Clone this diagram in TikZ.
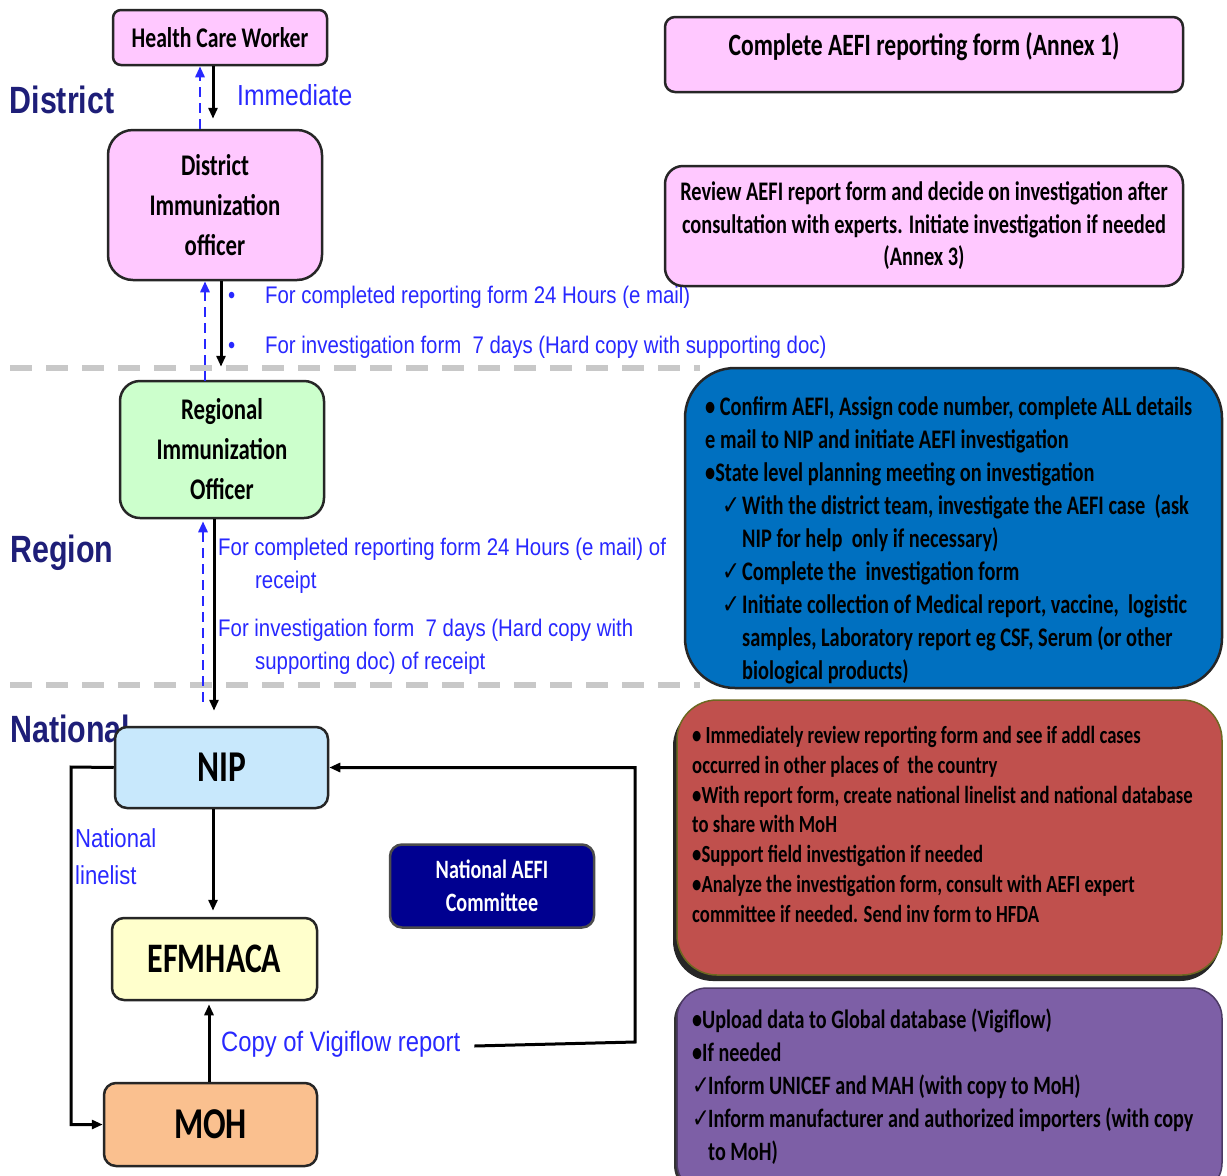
\documentclass[tikz,border=0pt]{standalone}
\usepackage{fontspec}
\usetikzlibrary{arrows.meta}
\newfontfamily\boxfont{Carlito}[FakeStretch=0.76]
\newfontfamily\bluefont{Liberation Sans}[FakeStretch=0.85]
\newfontfamily\levelfont{Liberation Sans}[FakeStretch=0.8]
\newfontfamily\checkfont{DejaVu Sans}[FakeStretch=0.8]

\definecolor{pinkbox}{HTML}{FFC8FF}
\definecolor{greenbox}{HTML}{CCFFCC}
\definecolor{nipbox}{HTML}{C8E8FC}
\definecolor{yellowbox}{HTML}{FFFFCC}
\definecolor{orangebox}{HTML}{FAC08F}
\definecolor{bluepanel}{HTML}{0070C0}
\definecolor{redpanel}{HTML}{C0504D}
\definecolor{purplepanel}{HTML}{7D5FA6}
\definecolor{navybox}{HTML}{000090}
\definecolor{levelcol}{RGB}{30,30,120}
\definecolor{notecol}{RGB}{40,40,255}
\definecolor{sepgray}{HTML}{C8C8C8}

\newcommand{\chk}{{\checkfont\char"2713}}

% multi-line text nodes below are anchored at the baseline of their last line
\tikzset{
  box/.style={draw=black!85, line width=2.5pt, rounded corners=12pt, align=center,
              inner sep=0pt, font=\boxfont\bfseries},
  panel/.style={draw=black!85, line width=2.5pt, inner sep=0pt},
  paneltext/.style={anchor=base west, align=left, inner sep=0pt, text=black},
  level/.style={font=\levelfont\bfseries\fontsize{38}{40}\selectfont, text=levelcol, inner sep=0pt},
  note/.style={font=\bluefont\fontsize{24}{33}\selectfont, text=notecol, inner sep=0pt, align=left},
  flow/.style={draw=black, line width=3pt, -{Triangle[length=11pt,width=9pt]}},
  back/.style={draw=notecol, line width=2.8pt, dash pattern=on 10pt off 6pt,
               -{Triangle[length=11pt,width=9pt]}},
  sep/.style={draw=sepgray, line width=6pt, dash pattern=on 22pt off 14pt},
}

\begin{document}
\begin{tikzpicture}[x=1pt,y=-1pt]
\useasboundingbox (0,0) rectangle (1227,1176);
\begin{scope}
\clip (0,0) rectangle (1227,1176);
\fill[white] (0,0) rectangle (1227,1176);

% level separators
\draw[sep] (10,368) -- (700,368);
\draw[sep] (10,685) -- (700,685);

% level labels
\node[level] (lvdistrict) at (62,100) {District};
\node[level] (lvregion) at (62,553) {Region};
\node[level, anchor=west] (lvnational) at (10,729) {National};

% reporting chain
\node[box, fill=pinkbox, minimum width=214pt, minimum height=55pt, rounded corners=8pt,
      font=\boxfont\bfseries\fontsize{28.5}{30}\selectfont] (hcw) at (220,37.5) {Health Care Worker};
\node[box, fill=pinkbox, minimum width=214pt, minimum height=150pt, rounded corners=25pt,
      font=\boxfont\bfseries\fontsize{30}{40}\selectfont] (dio) at (215,205)
      {District\\Immunization\\officer};
\node[box, fill=greenbox, minimum width=204pt, minimum height=137pt, rounded corners=20pt,
      font=\boxfont\bfseries\fontsize{30}{40}\selectfont] (roi) at (222,449.5)
      {Regional\\Immunization\\Officer};
\node[box, fill=nipbox, minimum width=213pt, minimum height=81pt,
      font=\boxfont\bfseries\fontsize{44}{46}\selectfont] (nip) at (221.5,767.5) {NIP};
\node[box, fill=yellowbox, minimum width=205pt, minimum height=82pt,
      font=\boxfont\bfseries\fontsize{42}{46}\selectfont] (efm) at (214.5,959) {EFMHACA};
\node[box, fill=orangebox, minimum width=213pt, minimum height=83pt,
      font=\boxfont\bfseries\fontsize{44}{46}\selectfont] (moh) at (210.5,1124.5) {MOH};
\node[box, fill=navybox, draw=black!70, minimum width=204pt, minimum height=83pt, text=white,
      font=\boxfont\bfseries\fontsize{26.5}{33}\selectfont] (nac) at (492,886)
      {National AEFI\\Committee};

% District connectors
\draw[back] ([xshift=-15pt]dio.north) -- ([xshift=-15pt]dio.north |- hcw.south);
\draw[flow, shorten >=10pt] ([xshift=-7pt]hcw.south) -- ([xshift=-7pt]hcw.south |- dio.north);
\node[note, font=\bluefont\fontsize{29}{30}\selectfont, anchor=west] (immediate) at (237,95) {Immediate};

\draw[back, shorten <=-1pt] ([xshift=-10pt]dio.south |- roi.north) -- ([xshift=-10pt]dio.south);
\draw[flow, shorten >=13pt] ([xshift=6pt]dio.south) -- ([xshift=6pt]dio.south |- roi.north);
\node[note, anchor=base west] (dnotes) at (228,353)
  {\makebox[37pt][l]{\textbullet}For completed reporting form 24 Hours (e mail)\\[17pt]
   \makebox[37pt][l]{\textbullet}For investigation form\ \ 7 days (Hard copy with supporting doc)};

% Region connectors
\draw[back, shorten <=24pt, shorten >=2pt] ([xshift=-19pt]roi.south |- nip.north) -- ([xshift=-19pt]roi.south);
\draw[flow, shorten >=15pt] ([xshift=-8pt]roi.south) -- ([xshift=-8pt]roi.south |- nip.north);
\node[note, anchor=base west] (rnotes) at (218,669)
  {For completed reporting form 24 Hours (e mail) of\\
   \hspace*{37pt}receipt\\[15pt]
   For investigation form\ \ 7 days (Hard copy with\\
   \hspace*{37pt}supporting doc) of receipt};

% National connectors
\draw[flow, shorten >=6pt] ([xshift=-8.5pt]nip.south) -- ([xshift=-8.5pt]nip.south |- efm.north);
\draw[flow, shorten >=3pt] ([xshift=-1.5pt]moh.north) -- ([xshift=-1.5pt]moh.north |- efm.south);
\node[note, font=\bluefont\fontsize{28}{30}\selectfont, anchor=west] (copyvf) at (221,1044)
  {Copy of Vigiflow report};
\coordinate (vfcorner) at (635,1042);
\draw[flow] ([xshift=14pt,yshift=-2pt]copyvf.east) -- (vfcorner) -- (vfcorner |- nip.east) -- (nip.east);
\coordinate (llcorner) at (71,767);
\draw[flow] (nip.west) -- (llcorner) -- (llcorner |- moh.west) -- (moh.west);
\node[note, font=\bluefont\fontsize{26}{37}\selectfont, anchor=base west] (linelist) at (75,884)
  {National\\linelist};

% District tasks
\node[box, fill=pinkbox, minimum width=518pt, minimum height=75pt, rounded corners=10pt]
  (task1) at (924,54.5) {};
\node[font=\boxfont\bfseries\fontsize{31}{32}\selectfont, inner sep=0pt] (task1txt)
  at (924,47) {Complete AEFI reporting form (Annex 1)};
\node[box, fill=pinkbox, minimum width=518pt, minimum height=120pt, rounded corners=18pt,
      font=\boxfont\bfseries\fontsize{26.8}{32.5}\selectfont] (task2) at (924,226)
  {Review AEFI report form and decide on investigation after\\
   consultation with experts. Initiate investigation if needed\\
   (Annex 3)};

% Region tasks
\node[panel, fill=bluepanel, minimum width=537pt, minimum height=320pt, rounded corners=50pt]
  (task3) at (953.5,528) {};
\node[paneltext, font=\boxfont\bfseries\fontsize{26.8}{32.9}\selectfont] (task3txt) at (705,679)
  {\textbullet{} Confirm AEFI, Assign code number, complete ALL details\\
   e mail to NIP and initiate AEFI investigation\\
   \textbullet State level planning meeting on investigation\\
   \hspace*{17pt}\makebox[20pt][l]{\chk}With the district team, investigate the AEFI case\ \ (ask\\
   \hspace*{37pt}NIP for help\ \ only if necessary)\\
   \hspace*{17pt}\makebox[20pt][l]{\chk}Complete the\ \ investigation form\\
   \hspace*{17pt}\makebox[20pt][l]{\chk}Initiate collection of Medical report, vaccine,\ \ logistic\\
   \hspace*{37pt}samples, Laboratory report eg CSF, Serum (or other\\
   \hspace*{37pt}biological products)};

% National tasks
\fill[black!85, rounded corners=40pt] (673,706) rectangle (1220,981);
\node[panel, draw=olive!70!black, line width=1.5pt, fill=redpanel, minimum width=545pt,
      minimum height=275pt, rounded corners=40pt] (task4) at (949.5,837.5) {};
\node[paneltext, font=\boxfont\bfseries\fontsize{24.6}{29.7}\selectfont] (task4txt) at (692,922)
  {\textbullet{} Immediately review reporting form and see if addl cases\\
   occurred in other places of\ \ the country\\
   \textbullet With report form, create national linelist and national database\\
   to share with MoH\\
   \textbullet Support field investigation if needed\\
   \textbullet Analyze the investigation form, consult with AEFI expert\\
   committee if needed. Send inv form to HFDA};

\fill[black!80, rounded corners=30pt] (674,991) rectangle (1220,1195);
\node[panel, draw=purplepanel!60!black, line width=1.5pt, fill=purplepanel, minimum width=545pt,
      minimum height=205pt, rounded corners=30pt] (task5) at (949.5,1090.5) {};
\node[paneltext, font=\boxfont\bfseries\fontsize{26.5}{33}\selectfont] (task5txt) at (692,1160)
  {\textbullet Upload data to Global database (Vigiflow)\\
   \textbullet If needed\\
   \makebox[16pt][l]{\chk}Inform UNICEF and MAH (with copy to MoH)\\
   \makebox[16pt][l]{\chk}Inform manufacturer and authorized importers (with copy\\
   \hspace*{16pt}to MoH)};
\end{scope}
\end{tikzpicture}
\end{document}
